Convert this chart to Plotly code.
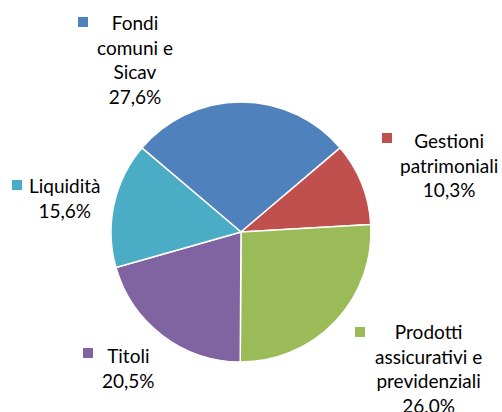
import plotly.graph_objects as go

# ---- data ----
categories = ["Fondi comuni e Sicav", "Gestioni patrimoniali",
              "Prodotti assicurativi e previdenziali", "Titoli", "Liquidità"]
values = [27.6, 10.3, 26.0, 20.5, 15.6]
label_lines = [["Fondi", "comuni e", "Sicav"],
               ["Gestioni", "patrimoniali"],
               ["Prodotti", "assicurativi e", "previdenziali"],
               ["Titoli"],
               ["Liquidità"]]

# ---- style ----
colors = ["#4F81BD", "#C0504D", "#9BBB59", "#8064A2", "#4BACC6"]
W, H = 502, 412
cx, cy, r = 241, 232, 130
# label block centres (px) and marker centres (px)
label_pos = [(135, 60), (449, 165), (428, 368), (128, 367.5), (65, 197.5)]
marker_pos = [(83, 22), (387, 138), (360, 332), (88, 353), (17, 185)]
msize = 10
FONT = "Lato"

fig = go.Figure(go.Pie(
    labels=categories, values=values, sort=False, direction="clockwise",
    rotation=-49.7, textinfo="none", hoverinfo="label+percent",
    marker=dict(colors=colors, line=dict(color="white", width=1.5)),
    domain=dict(x=[(cx - r) / W, (cx + r) / W], y=[(H - cy - r) / H, (H - cy + r) / H]),
    showlegend=False,
))

annotations = []
shapes = []
for i, cat in enumerate(categories):
    pct = f"{values[i]:.1f}%".replace(".", ",")
    txt = "<br>".join(label_lines[i] + [pct])
    lx, ly = label_pos[i]
    annotations.append(dict(x=lx / W, y=1 - ly / H, xref="paper", yref="paper",
                            text=txt, showarrow=False, xanchor="center", yanchor="middle",
                            align="center", font=dict(family=FONT, size=19, color="#000000")))
    mx, my = marker_pos[i]
    shapes.append(dict(type="rect", xref="paper", yref="paper",
                       x0=(mx - msize / 2) / W, x1=(mx + msize / 2) / W,
                       y0=1 - (my + msize / 2) / H, y1=1 - (my - msize / 2) / H,
                       fillcolor=colors[i], line=dict(width=0)))

fig.update_layout(width=W, height=H, margin=dict(l=0, r=0, t=0, b=0),
                  paper_bgcolor="white", plot_bgcolor="white",
                  annotations=annotations, shapes=shapes)
fig.write_html("out.html", config={"displayModeBar": False},
               post_script="document.body.style.margin='0';document.body.style.overflow='hidden';")
